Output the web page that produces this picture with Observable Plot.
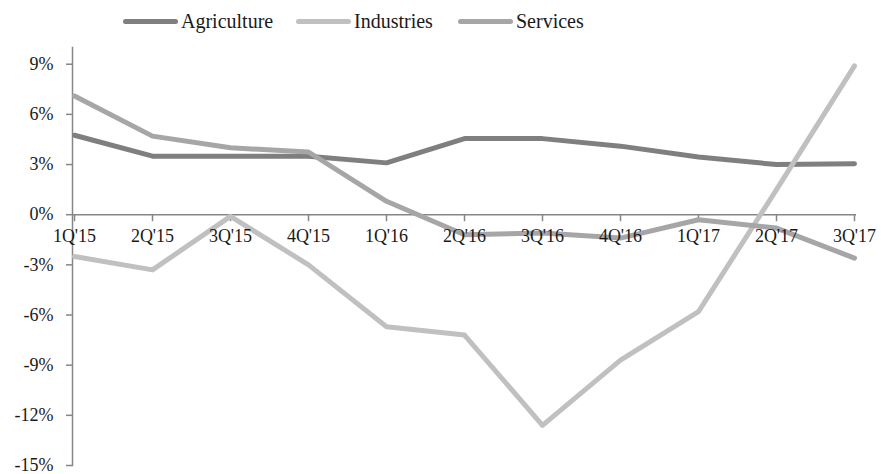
<!DOCTYPE html>
<html>
<head>
<meta charset="utf-8">
<script src="https://cdn.jsdelivr.net/npm/d3@7"></script>
<script src="https://cdn.jsdelivr.net/npm/@observablehq/plot@0.6"></script>
<style>
  html, body { margin: 0; padding: 0; background: #fff; overflow: hidden; }
  #wrap { width: 881px; font-family: "Liberation Serif", "DejaVu Serif", serif; color: #1a1a1a; }
  #legend { position: relative; height: 43px; font-size: 20px; }
  .item { position: absolute; top: 10px; display: flex; align-items: center; }
  .sw { display: inline-block; width: 55px; height: 5px; border-radius: 3px; margin-right: 3px; }
  svg text { font-family: "Liberation Serif", "DejaVu Serif", serif; }
</style>
</head>
<body>
<div id="wrap">
  <div id="legend"></div>
  <div id="chart"></div>
</div>
<script>
const quarters = ["1Q'15","2Q'15","3Q'15","4Q'15","1Q'16","2Q'16","3Q'16","4Q'16","1Q'17","2Q'17","3Q'17"];
const agriculture = [4.75, 3.5, 3.5, 3.5, 3.1, 4.55, 4.55, 4.1, 3.45, 3.0, 3.05];
const industries  = [-2.5, -3.3, -0.1, -3.0, -6.7, -7.2, -12.6, -8.7, -5.8, 1.5, 8.9];
const services    = [7.1, 4.7, 4.0, 3.75, 0.8, -1.2, -1.1, -1.4, -0.3, -0.8, -2.6];
const seriesNames = ["Agriculture", "Industries", "Services"];
const seriesColors = ["#7f7f7f", "#c0c0c0", "#a6a6a6"];
const yTicks = [-15, -12, -9, -6, -3, 0, 3, 6, 9];

const allSeries = [agriculture, industries, services];
const data = [];
allSeries.forEach((vals, si) => vals.forEach((v, i) => data.push({series: seriesNames[si], q: quarters[i], v})));

// legend
const legend = document.getElementById("legend");
const legendLeft = [123, 296, 458];
seriesNames.forEach((name, i) => {
  const it = document.createElement("div");
  it.className = "item";
  it.style.left = legendLeft[i] + "px";
  it.innerHTML = `<span class="sw" style="background:${seriesColors[i]}"></span><span>${name}</span>`;
  legend.appendChild(it);
});

const axisColor = "#868686";
const chart = Plot.plot({
  width: 881,
  height: 431,
  marginLeft: 72,
  marginRight: 25,
  marginTop: 4,
  marginBottom: 9,
  style: {fontSize: "18px", fontFamily: "Liberation Serif, DejaVu Serif, serif", color: "#1a1a1a", overflow: "visible"},
  x: {type: "point", domain: quarters, padding: 0, axis: null},
  y: {domain: [-15, 10], axis: null},
  color: {domain: seriesNames, range: seriesColors},
  marks: [
    Plot.ruleY([0], {stroke: axisColor, strokeWidth: 1.5}),
    Plot.ruleX(quarters, {x: d => d, y1: 0, y2: -0.42, stroke: axisColor, strokeWidth: 1.5}),
    Plot.frame({anchor: "left", stroke: axisColor, strokeWidth: 1.5}),
    Plot.axisY({ticks: yTicks, label: null, tickFormat: d => d + "%", tickSize: 6, tickPadding: 13, stroke: axisColor, strokeWidth: 1.5, fontSize: 18, fill: "#1a1a1a"}),
    Plot.line(data, {x: "q", y: "v", z: "series", stroke: "series", strokeWidth: 5, strokeLinecap: "round", strokeLinejoin: "round"}),
    Plot.text(quarters, {x: d => d, y: 0, dy: 22, text: d => d, fontSize: 18, fill: "#1a1a1a"})
  ]
});
document.getElementById("chart").appendChild(chart);
</script>
</body>
</html>
